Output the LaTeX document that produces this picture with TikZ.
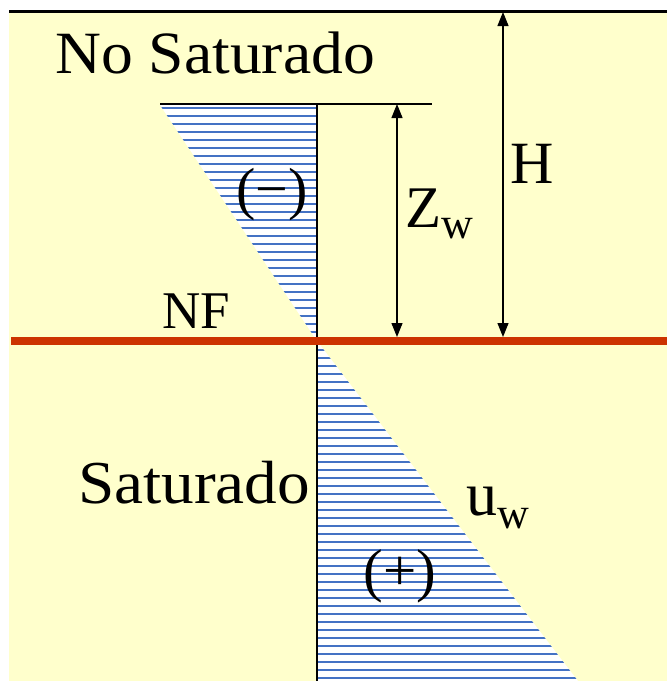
\documentclass[tikz,border=0pt]{standalone}
\usepackage{fontspec}
\setmainfont{Liberation Serif}
\usetikzlibrary{arrows.meta}
\definecolor{bgyellow}{HTML}{FFFFCC}
\definecolor{nfred}{HTML}{CC3300}
\definecolor{hatchblue}{HTML}{4472C4}
\begin{document}
\begin{tikzpicture}[x=1pt,y=-1pt,
  dim/.style={{Triangle[length=14pt,width=11pt]}-{Triangle[length=14pt,width=11pt]}, line width=1.2pt},
  lbl/.style={inner sep=0pt, anchor=base west},
  hatchline/.style={draw=hatchblue, line width=2.2pt},
  thinline/.style={line width=1.4pt}]
\useasboundingbox (0,0) rectangle (667,681);
% background
\fill[bgyellow] (9,11) rectangle (667,681);
% key points
\coordinate (ttl) at (9,11);
\coordinate (ttr) at (667,11);
\coordinate (zl) at (160,104);
\coordinate (zr) at (432,104);
\coordinate (axtop) at (317,104);
\coordinate (axbot) at (317,681);
\coordinate (nfl) at (11,341);
\coordinate (nfr) at (667,341);
\coordinate (o) at (317,341);
\coordinate (lowr) at (578,681);
\coordinate (zwt) at (397,104);
\coordinate (zwb) at (397,337);
\coordinate (ht) at (503,12);
\coordinate (hb) at (503,337);
% triangles
\fill[white] (160,105) -- (317,105) -- (o) -- cycle;
\fill[white] (o) -- (lowr) -- (317,681) -- cycle;
\begin{scope}
  \clip (160,105) -- (317,105) -- (o) -- cycle;
  \foreach \k in {0,...,29} \draw[hatchline] (150,108+8*\k) -- (318,108+8*\k);
\end{scope}
\begin{scope}
  \clip (o) -- (lowr) -- (317,681) -- cycle;
  \foreach \k in {0,...,41} \draw[hatchline] (316,350+8*\k) -- (600,350+8*\k);
\end{scope}
% lines
\draw[line width=3pt] (ttl) -- (ttr);
\draw[thinline] (zl) -- (zr);
\draw[thinline] (axtop) -- (axbot);
\draw[nfred, line width=8pt] (nfl) -- (nfr);
% dimension arrows
\draw[dim] (zwt) -- (zwb);
\draw[dim] (ht) -- (hb);
% labels
\node[lbl, font=\fontsize{60}{60}\selectfont] (nosat) at (55,73) {\scalebox{1.06}[1]{No Saturado}};
\node[lbl, font=\fontsize{53}{53}\selectfont] (nf) at (162,328) {NF};
\node[lbl, font=\fontsize{61}{61}\selectfont] (sat) at (78,503) {\scalebox{1.07}[1]{Saturado}};
\node[lbl, font=\fontsize{60}{60}\selectfont] (h) at (510,183) {H};
\node[lbl, font=\fontsize{59}{59}\selectfont] (zw) at (405,227) {Z\raisebox{-11pt}{\fontsize{44}{44}\selectfont w}};
\node[lbl, font=\fontsize{62}{62}\selectfont] (uw) at (466,515) {u\raisebox{-13pt}{\fontsize{44}{44}\selectfont w}};
\node[inner sep=0pt, font=\fontsize{58}{58}\selectfont] (neg) at (272,195) {(−)};
\node[inner sep=0pt, font=\fontsize{59}{59}\selectfont] (pos) at (400,576) {(+)};
\end{tikzpicture}
\end{document}
